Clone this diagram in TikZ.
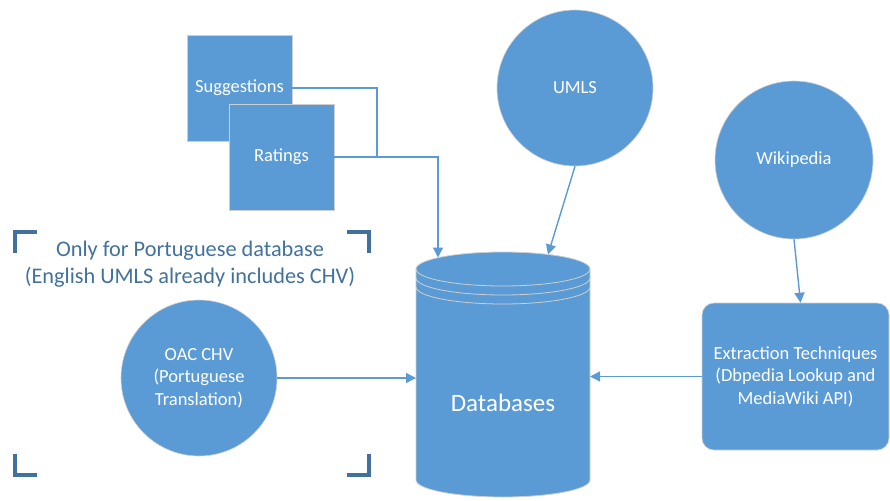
\documentclass[tikz,border=0pt]{standalone}
\usepackage{fontspec}
\setmainfont{Carlito}
\usepackage{tikz}
\usetikzlibrary{arrows.meta}
\usetikzlibrary{positioning}
\definecolor{shapefill}{HTML}{5B9BD5}
\definecolor{shapeline}{HTML}{CFCFCF}
\definecolor{bracketblue}{HTML}{41719C}

\begin{document}
\begin{tikzpicture}[x=1pt,y=-1pt,>={Triangle[length=10pt,width=10pt]},
                    main node/.style={circle,draw=shapeline,fill=shapefill,line width=0.6pt,
                                      text=white,align=center,font=\fontsize{18.5}{22.5}\selectfont},
                    square node/.style={rectangle,draw=shapeline,fill=shapefill,line width=0.6pt,
                                        minimum width=105pt,minimum height=106pt,
                                        text=white,font=\fontsize{18.5}{22.5}\selectfont},
                    box node/.style={rectangle,rounded corners=12pt,draw=shapeline,fill=shapefill,line width=0.6pt,
                                     minimum width=187pt,minimum height=147pt,
                                     text=white,align=center,font=\fontsize{18.5}{22.5}\selectfont},
                    link/.style={draw=shapefill,line width=1.4pt},
                    bracket/.style={draw=bracketblue,line width=4pt}]

\useasboundingbox (0,0) rectangle (890,500);

% sources
\node[square node] (sug) at (239.5,88) {Suggestions};
\node[square node] (rat) at (281.5,157) {Ratings};
\node[main node, minimum size=156pt] (umls) at (575,88) {UMLS};
\node[main node, minimum size=158pt] (wiki) at (794,160) {Wikipedia};
\node[main node, minimum size=156pt] (oac) at (199,378) {OAC CHV\\(Portuguese\\Translation)};
\node[box node] (ext) at (795.5,376.5) {Extraction Techniques\\(Dbpedia Lookup and\\MediaWiki API)};

% database cylinder
\path[fill=shapefill,draw=shapeline,line width=0.8pt] (416,269) -- (416,480)
    arc[start angle=180,end angle=360,x radius=87pt,y radius=17pt] -- (590,269)
    arc[start angle=0,end angle=180,x radius=87pt,y radius=17pt] -- cycle;
\foreach \y in {269,278,287}
    \draw[shapeline,line width=0.8pt] (416,\y) arc[start angle=180,end angle=360,x radius=87pt,y radius=17pt];
\node[text=white,font=\fontsize{25}{30}\selectfont] (db) at (503,403) {Databases};

\coordinate (dbL) at (416,378);
\coordinate (dbR) at (590,376.5);
\coordinate (dbT1) at (438,257.5);
\coordinate (dbT2) at (548,254.5);
\coordinate (join) at (377,157);

% note with corner marks
\node[text=bracketblue,align=center,font=\fontsize{22.3}{27}\selectfont] (note) at (190,264)
    {Only for Portuguese database\\(English UMLS already includes CHV)};
\draw[bracket] (15,253) -- (15,232) -- (37,232);
\draw[bracket] (347,232) -- (369,232) -- (369,253);
\draw[bracket] (15,454) -- (15,475) -- (37,475);
\draw[bracket] (347,475) -- (369,475) -- (369,454);

% connectors
\draw[link] (sug.east) -| (join);
\draw[link,->] (rat.east) -| (dbT1);
\draw[link,->] (umls.south) -- (dbT2);
\draw[link,->] (wiki.south) -- ([xshift=5pt]ext.north);
\draw[link,->] (oac.east) -- (dbL);
\draw[link,->] (ext.west) -- (dbR);
\end{tikzpicture}
\end{document}
